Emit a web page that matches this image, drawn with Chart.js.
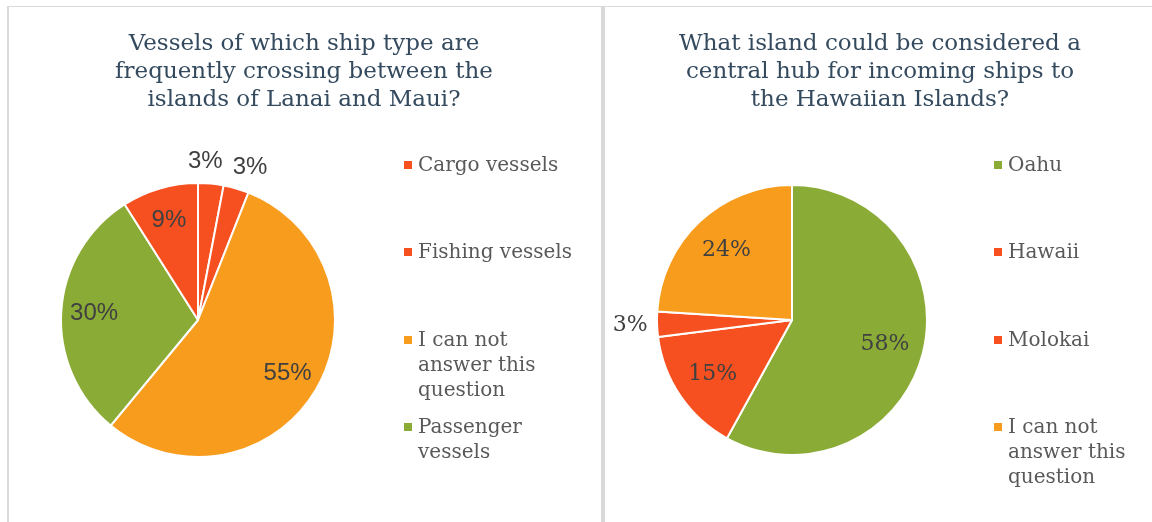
<!DOCTYPE html>
<html>
<head>
<meta charset="utf-8">
<title>Ship survey pies</title>
<script src="https://cdn.jsdelivr.net/npm/chart.js@4.4.1/dist/chart.umd.min.js"></script>
<style>
  body { margin: 0; width: 1152px; height: 522px; background: #fff; position: relative; overflow: hidden; font-family: 'DejaVu Serif', serif; }
  .rule { position: absolute; background: #d9d9d9; }
  .panel { position: absolute; top: 0; height: 522px; }
  .panel canvas { position: absolute; left: 0; top: 0; }
  .title { position: absolute; top: 28px; width: 480px; text-align: center; color: #344a5e; font-size: 23px; line-height: 28px; }
  .legend { position: absolute; top: 0; color: #595959; font-size: 20px; line-height: 25px; }
  .item { position: absolute; left: 0; }
  .box { position: absolute; width: 8px; height: 8px; left: -14px; top: 9px; }
</style>
</head>
<body>
<div class="rule" style="left:7px;top:6px;width:1145px;height:1px"></div>
<div class="rule" style="left:7px;top:6px;width:2px;height:516px"></div>
<div class="rule" style="left:601px;top:6px;width:4px;height:516px"></div>

<div class="panel" id="leftPanel" style="left:0;width:600px">
  <canvas id="shipChart" width="600" height="522"></canvas>
  <div class="title" style="left:64px">Vessels of which ship type are<br>frequently crossing between the<br>islands of Lanai and Maui?</div>
  <div class="legend" id="shipLegend" style="left:418px;width:160px"></div>
</div>

<div class="panel" id="rightPanel" style="left:605px;width:547px">
  <canvas id="hubChart" width="547" height="522"></canvas>
  <div class="title" style="left:35px">What island could be considered a<br>central hub for incoming ships to<br>the Hawaiian Islands?</div>
  <div class="legend" id="hubLegend" style="left:403px;width:140px"></div>
</div>

<script>
// left pie: ship types (percent)
const shipLabels = ['Cargo vessels', 'Fishing vessels', 'I can not answer this question', 'Passenger vessels', 'Other'];
const shipValues = [3, 3, 55, 30, 9];
// right pie: central hub island (percent)
const hubLabels = ['Oahu', 'Hawaii', 'Molokai', 'I can not answer this question'];
const hubValues = [58, 15, 3, 24];

const RED = '#f65021';
const ORANGE = '#f89c1e';
const GREEN = '#8aac37';
const shipColors = [RED, RED, ORANGE, GREEN, RED];
const hubColors = [GREEN, RED, RED, ORANGE];

// percent labels, small slices get pushed outside the pie
const sliceLabels = {
  id: 'sliceLabels',
  afterDatasetsDraw(chart, args, opts) {
    const ctx = chart.ctx;
    const meta = chart.getDatasetMeta(0);
    const values = chart.data.datasets[0].data;
    ctx.save();
    ctx.font = opts.font;
    ctx.fillStyle = opts.color;
    ctx.textAlign = 'center';
    ctx.textBaseline = 'middle';
    const spots = meta.data.map((arc, i) => {
      const p = arc.getProps(['x', 'y', 'startAngle', 'endAngle', 'outerRadius'], true);
      const mid = (p.startAngle + p.endAngle) / 2;
      const out = values[i] < 5;
      const r = p.outerRadius * (out ? opts.outside : opts.inside);
      const text = values[i] + '%';
      return { text, out, x: p.x + Math.cos(mid) * r, y: p.y + Math.sin(mid) * r, w: ctx.measureText(text).width };
    });
    // keep neighbouring outside labels from overlapping
    for (let i = 1; i < spots.length; i++) {
      const a = spots[i - 1], b = spots[i];
      if (!a.out || !b.out) continue;
      const need = (a.w + b.w) / 2 + 10;
      const gap = Math.abs(b.x - a.x);
      if (gap < need && Math.abs(b.y - a.y) < 24) {
        const push = (need - gap) / 2;
        const dir = b.x >= a.x ? 1 : -1;
        a.x -= push * dir;
        b.x += push * dir;
      }
    }
    spots.forEach(s => ctx.fillText(s.text, s.x, s.y));
    ctx.restore();
  }
};

function makePie(id, labels, values, colors, padding, labelOpts) {
  return new Chart(document.getElementById(id), {
    type: 'pie',
    data: {
      labels: labels,
      datasets: [{
        data: values,
        backgroundColor: colors,
        borderColor: '#ffffff',
        borderWidth: 2
      }]
    },
    options: {
      responsive: false,
      animation: false,
      layout: { padding: padding },
      plugins: {
        legend: { display: false },
        tooltip: { enabled: false },
        sliceLabels: labelOpts
      }
    },
    plugins: [sliceLabels]
  });
}

// legend: entries spread evenly down the side, like the original
function makeLegend(id, labels, colors, count) {
  const box = document.getElementById(id);
  for (let i = 0; i < count; i++) {
    const item = document.createElement('div');
    item.className = 'item';
    item.style.top = (152 + i * 87.4) + 'px';
    item.innerHTML = '<span class="box" style="background:' + colors[i] + '"></span>' + labels[i];
    box.appendChild(item);
  }
}

makePie('shipChart', shipLabels, shipValues, shipColors,
  { left: 60, right: 264, top: 182, bottom: 64 },
  { font: '24px "Liberation Sans", Arial, sans-serif', color: '#404040', inside: 0.76, outside: 1.16 });

makePie('hubChart', hubLabels, hubValues, hubColors,
  { left: 51, right: 224, top: 184, bottom: 66 },
  { font: '22px "DejaVu Serif", serif', color: '#404040', inside: 0.71, outside: 1.2 });

// only four entries fit in the left legend
makeLegend('shipLegend', shipLabels, shipColors, 4);
makeLegend('hubLegend', hubLabels, hubColors, 4);
</script>
</body>
</html>
